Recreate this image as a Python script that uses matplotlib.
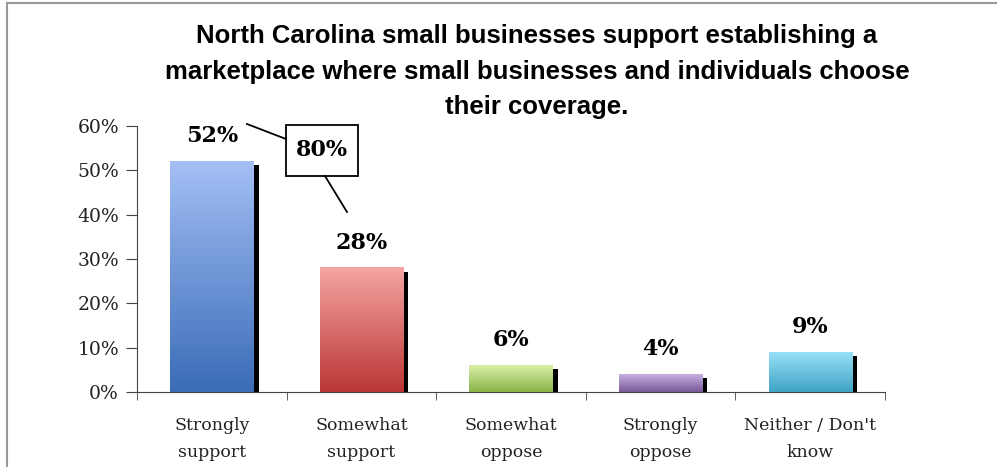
import numpy as np
import matplotlib.pyplot as plt
from matplotlib.colors import LinearSegmentedColormap
from matplotlib.lines import Line2D
from matplotlib.patches import Rectangle

categories = ["Strongly\nsupport", "Somewhat\nsupport", "Somewhat\noppose",
              "Strongly\noppose", "Neither / Don't\nknow"]
values = [52, 28, 6, 4, 9]
top_colors = ["#a4bff5", "#f5a5a3", "#d8f1a6", "#c7b1e2", "#98e0f8"]
bottom_colors = ["#3a6cb7", "#ba3634", "#8ab348", "#785897", "#3fa3c3"]
combined_label = "80%"

title = ("North Carolina small businesses support establishing a\n"
         "marketplace where small businesses and individuals choose\n"
         "their coverage.")

fig = plt.figure(figsize=(9.97, 4.67), dpi=100)
W, H = 997, 467
ax = fig.add_axes([137 / W, 1 - 392 / H, (885 - 137) / W, (392 - 126) / H])

n = len(values)
bar_w = 0.555
shadow_w = 0.035
x = np.arange(n)
grad = np.linspace(0, 1, 256).reshape(-1, 1)
for i, v in enumerate(values):
    left = x[i] - bar_w / 2
    # drop shadow on the right side
    ax.bar(left + bar_w, v - 0.9, width=shadow_w, align="edge",
           color="black", zorder=2)
    cmap = LinearSegmentedColormap.from_list("g", [bottom_colors[i], top_colors[i]])
    ax.imshow(grad, extent=(left, left + bar_w, 0, v), origin="lower",
              cmap=cmap, aspect="auto", zorder=3)
    ax.annotate(f"{v}%", (x[i], v), xytext=(0, 18), textcoords="offset points",
                ha="center", va="center", fontsize=16, fontweight="bold",
                family="DejaVu Serif", zorder=5)

ax.set_xlim(-0.5, n - 0.5)
ax.set_ylim(0, 60)

ax.set_yticks(range(0, 61, 10))
ax.set_yticklabels([f"{t}%" for t in range(0, 61, 10)],
                   family="DejaVu Serif", fontsize=13.5, color="#222222")
ax.set_xticks(x)
ax.set_xticklabels(categories, family="DejaVu Serif", fontsize=12.5,
                   color="#222222", linespacing=1.75)
ax.set_xticks(np.arange(n + 1) - 0.5, minor=True)
ax.tick_params(axis="x", which="major", length=0, pad=18)
ax.tick_params(axis="x", which="minor", length=6, direction="out", color="#444444")
ax.tick_params(axis="y", length=8, direction="out", color="#444444", pad=5)

for s in ["top", "right"]:
    ax.spines[s].set_visible(False)
ax.spines["left"].set_color("#444444")
ax.spines["bottom"].set_color("#444444")

fig.text(537 / W, 1 - 71.5 / H, title, ha="center", va="center",
         fontsize=18.5, fontweight="bold", family="Liberation Sans",
         linespacing=1.6)

# combined support callout
fig.add_artist(Rectangle((286 / W, 1 - 176 / H), 72 / W, 51 / H,
                         transform=fig.transFigure, fc="white", ec="black", lw=1.3))
fig.text(322 / W, 1 - 150.5 / H, combined_label, ha="center", va="center",
         fontsize=16, fontweight="bold", family="DejaVu Serif")
fig.add_artist(Line2D([247 / W, 286 / W], [1 - 124 / H, 1 - 139 / H],
                      color="black", lw=1.3))
fig.add_artist(Line2D([325 / W, 347 / W], [1 - 176 / H, 1 - 212 / H],
                      color="black", lw=1.3))

# outer frame edges
fig.add_artist(Line2D([7 / W, 1], [1 - 3 / H, 1 - 3 / H], color="#999999", lw=1.5))
fig.add_artist(Line2D([7 / W, 7 / W], [0, 1 - 3 / H], color="#999999", lw=1.5))

fig.savefig("out.png", dpi=100)
